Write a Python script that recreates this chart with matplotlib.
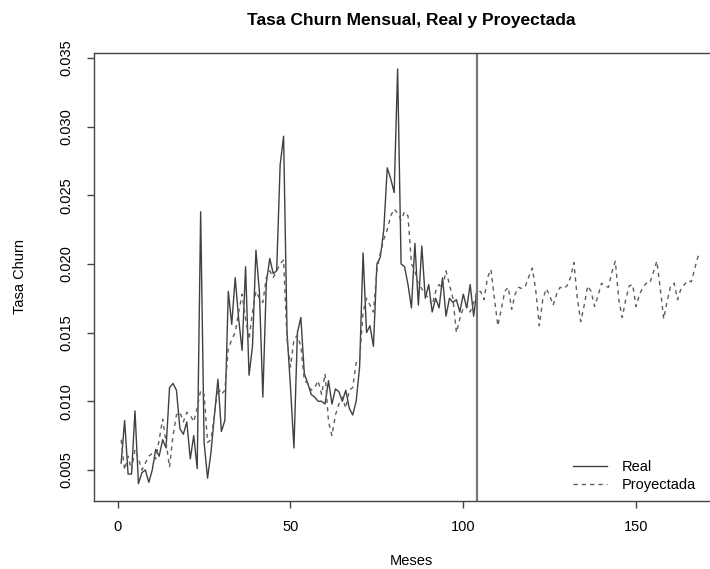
import numpy as np
import matplotlib
matplotlib.use("Agg")
import matplotlib.pyplot as plt

plt.rcParams['font.family'] = ['Liberation Sans', 'DejaVu Sans']

# observed monthly churn rate (months 1..104)
real = [0.0055, 0.0086, 0.0047, 0.0047, 0.0093, 0.0040, 0.0048, 0.0050, 0.0041, 0.0050,
        0.0065, 0.0060, 0.0072, 0.0066, 0.0110, 0.0113, 0.0108, 0.0080, 0.0076, 0.0085,
        0.0058, 0.0075, 0.0051, 0.0238, 0.0070, 0.0044, 0.0063, 0.0090, 0.0116, 0.0078,
        0.0086, 0.0180, 0.0156, 0.0190, 0.0160, 0.0137, 0.0198, 0.0119, 0.0140, 0.0210,
        0.0180, 0.0103, 0.0186, 0.0204, 0.0193, 0.0195, 0.0272, 0.0293, 0.0150, 0.0110,
        0.0066, 0.0150, 0.0161, 0.0120, 0.0113, 0.0105, 0.0103, 0.0100, 0.0100, 0.0098,
        0.0115, 0.0098, 0.0109, 0.0107, 0.0100, 0.0108, 0.0095, 0.0090, 0.0100, 0.0125,
        0.0208, 0.0150, 0.0155, 0.0140, 0.0200, 0.0205, 0.0225, 0.0270, 0.0262, 0.0252,
        0.0342, 0.0200, 0.0198, 0.0185, 0.0168, 0.0215, 0.0170, 0.0213, 0.0175, 0.0185,
        0.0165, 0.0175, 0.0168, 0.0190, 0.0162, 0.0175, 0.0172, 0.0174, 0.0165, 0.0178,
        0.0168, 0.0185, 0.0162, 0.0182]

# fitted + projected churn rate (months 1..168)
proyectada = [0.0072, 0.0050, 0.0060, 0.0050, 0.0065, 0.0058, 0.0050, 0.0055, 0.0060, 0.0062,
              0.0058, 0.0072, 0.0087, 0.0070, 0.0052, 0.0075, 0.0090, 0.0092, 0.0085, 0.0092,
              0.0090, 0.0085, 0.0095, 0.0108, 0.0105, 0.0070, 0.0072, 0.0090, 0.0110, 0.0105,
              0.0108, 0.0138, 0.0145, 0.0150, 0.0165, 0.0178, 0.0160, 0.0145, 0.0165, 0.0180,
              0.0175, 0.0172, 0.0190, 0.0195, 0.0190, 0.0195, 0.0200, 0.0203, 0.0145, 0.0125,
              0.0145, 0.0148, 0.0140, 0.0115, 0.0113, 0.0108, 0.0110, 0.0115, 0.0105, 0.0120,
              0.0085, 0.0075, 0.0090, 0.0098, 0.0103, 0.0095, 0.0108, 0.0110, 0.0128, 0.0130,
              0.0165, 0.0175, 0.0170, 0.0165, 0.0195, 0.0208, 0.0218, 0.0225, 0.0235, 0.0240,
              0.0237, 0.0232, 0.0238, 0.0235, 0.0200, 0.0195, 0.0185, 0.0182, 0.0178, 0.0175,
              0.0170, 0.0180, 0.0185, 0.0182, 0.0195, 0.0185, 0.0175, 0.0150, 0.0160, 0.0168,
              0.0170, 0.0165, 0.0172, 0.0180,
              0.0180, 0.0174, 0.0190, 0.0196, 0.0175, 0.0155, 0.0167, 0.0180, 0.0183, 0.0167,
              0.0178, 0.0183, 0.0182, 0.0184, 0.0191, 0.0197, 0.0180, 0.0155, 0.0174, 0.0182,
              0.0177, 0.0170, 0.0178, 0.0183, 0.0182, 0.0184, 0.0190, 0.0201, 0.0175, 0.0158,
              0.0170, 0.0184, 0.0180, 0.0169, 0.0177, 0.0186, 0.0184, 0.0183, 0.0194, 0.0202,
              0.0174, 0.0161, 0.0174, 0.0184, 0.0185, 0.0169, 0.0178, 0.0183, 0.0186, 0.0186,
              0.0194, 0.0202, 0.0182, 0.0160, 0.0173, 0.0184, 0.0186, 0.0174, 0.0182, 0.0185,
              0.0188, 0.0187, 0.0197, 0.0206]

corte = 104
x_ticks = [0, 50, 100, 150]
y_ticks = [0.005, 0.010, 0.015, 0.020, 0.025, 0.030, 0.035]

meses_real = np.arange(1, len(real) + 1)
meses_proy = np.arange(1, len(proyectada) + 1)

fig = plt.figure(figsize=(7.1, 5.69), dpi=100)
# the original picture is cropped on the right, so the axes run past the edge
ax = fig.add_axes([94/710, 1 - 500.7/569, (728 - 94)/710, (500.7 - 53)/569])

ax.plot(meses_real, real, color='#404040', linewidth=1.0, label='Real')
ax.plot(meses_proy, proyectada, color='#5e5e5e', linewidth=1.0,
        linestyle=(0, (3, 3)), label='Proyectada')
ax.axvline(corte, color='#777777', linewidth=1.6)

ax.set_xlim(-6.86, 176.6)
ax.set_ylim(0.00276, 0.03536)
ax.set_xticks(x_ticks)
ax.set_xticklabels([str(t) for t in x_ticks])
ax.set_yticks(y_ticks)
ax.set_yticklabels(['%.3f' % t for t in y_ticks], rotation=90, va='center')

for s in ax.spines.values():
    s.set_color('#444444')
    s.set_linewidth(1.0)
ax.tick_params(axis='both', length=5, width=1.0, color='#444444', labelsize=10.5)
ax.tick_params(axis='x', pad=9)
ax.tick_params(axis='y', pad=10)

ax.set_xlabel('Meses', fontsize=10.5, labelpad=14)
ax.set_ylabel('Tasa Churn', fontsize=10.5, labelpad=23)
ax.set_title('Tasa Churn Mensual, Real y Proyectada', fontsize=12.5,
             fontweight='bold', pad=20)

ax.legend(loc='upper left', bbox_to_anchor=(566/710, 1 - 453/569),
          bbox_transform=fig.transFigure, frameon=False, fontsize=10.5,
          handlelength=2.3, handletextpad=1.0, borderpad=0, labelspacing=0.25)

plt.savefig('out.png', dpi=100)
